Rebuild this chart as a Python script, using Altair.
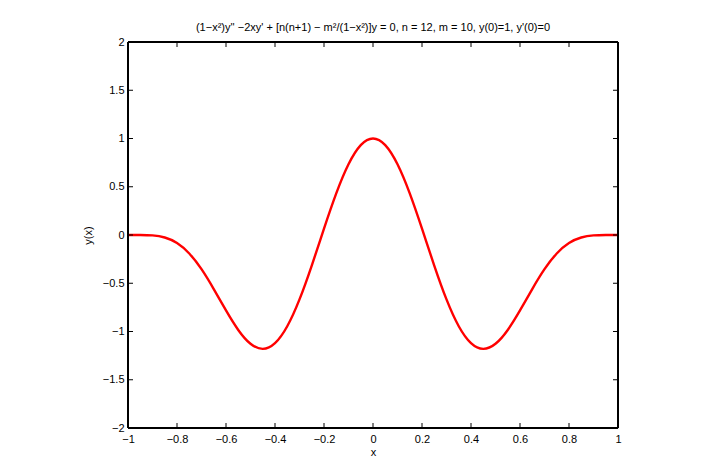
import altair as alt
import pandas as pd

# Curve values (symmetric about x = 0)
x_half = [0.0, 0.05, 0.10, 0.15, 0.20, 0.25, 0.30, 0.35, 0.40, 0.45, 0.50,
          0.55, 0.60, 0.65, 0.70, 0.75, 0.80, 0.85, 0.90, 0.95, 1.0]
y_half = [1.0, 0.9308, 0.7323, 0.4306, 0.0652, -0.3168, -0.6677, -0.9456,
          -1.1208, -1.1800, -1.1272, -0.9838, -0.7817, -0.5600, -0.3543,
          -0.1913, -0.0830, -0.0257, -0.0044, -0.0002, 0.0]

x_ticks = [-1, -0.8, -0.6, -0.4, -0.2, 0, 0.2, 0.4, 0.6, 0.8, 1]
y_ticks = [-2, -1.5, -1, -0.5, 0, 0.5, 1, 1.5, 2]

xs = [-v for v in reversed(x_half[1:])] + x_half
ys = list(reversed(y_half[1:])) + y_half
df = pd.DataFrame({"x": xs, "y": ys})
dfx = pd.DataFrame({"t": x_ticks})
dfy = pd.DataFrame({"t": y_ticks})

W, H = 490, 386
FONT = "Liberation Sans"
xscale = alt.Scale(domain=[-1, 1], nice=False, zero=False)
yscale = alt.Scale(domain=[-2, 2], nice=False, zero=False)

line = alt.Chart(df).mark_line(color="#ff0000", strokeWidth=2.4, interpolate="natural", clip=True).encode(
    x=alt.X("x:Q", scale=xscale,
            axis=alt.Axis(values=x_ticks, format="~g", title="x", ticks=False, domain=False, grid=False,
                          labelFont=FONT, labelFontSize=11, labelColor="black", labelPadding=5,
                          titleFont=FONT, titleFontSize=11, titleFontWeight="normal", titleColor="black",
                          titlePadding=2, labelFlush=False)),
    y=alt.Y("y:Q", scale=yscale,
            axis=alt.Axis(values=y_ticks, format="~g", title="y(x)", ticks=False, domain=False, grid=False,
                          labelFont=FONT, labelFontSize=11, labelColor="black", labelPadding=4,
                          titleFont=FONT, titleFontSize=11, titleFontWeight="normal", titleColor="black",
                          titlePadding=9, labelFlush=False)),
)

tick_len = 5
rule = dict(color="black", strokeWidth=1)
xb = alt.Chart(dfx).mark_rule(**rule).encode(
    x=alt.X("t:Q", scale=xscale), y=alt.value(H), y2=alt.value(H - tick_len))
xt = alt.Chart(dfx).mark_rule(**rule).encode(
    x=alt.X("t:Q", scale=xscale), y=alt.value(0), y2=alt.value(tick_len))
yl = alt.Chart(dfy).mark_rule(**rule).encode(
    y=alt.Y("t:Q", scale=yscale), x=alt.value(0), x2=alt.value(tick_len))
yr = alt.Chart(dfy).mark_rule(**rule).encode(
    y=alt.Y("t:Q", scale=yscale), x=alt.value(W), x2=alt.value(W - tick_len))

frame_style = dict(color="black", strokeWidth=1.6)
f_top = alt.Chart(dfx).mark_rule(**frame_style).encode(x=alt.value(0), x2=alt.value(W), y=alt.value(0))
f_bot = alt.Chart(dfx).mark_rule(**frame_style).encode(x=alt.value(0), x2=alt.value(W), y=alt.value(H))
f_left = alt.Chart(dfx).mark_rule(**frame_style).encode(x=alt.value(0), y=alt.value(0), y2=alt.value(H))
f_right = alt.Chart(dfx).mark_rule(**frame_style).encode(x=alt.value(W), y=alt.value(0), y2=alt.value(H))

chart = alt.layer(line, xb, xt, yl, yr, f_top, f_bot, f_left, f_right).properties(
    width=W, height=H,
    title=alt.TitleParams("(1−x²)y'' −2xy' + [n(n+1) − m²/(1−x²)]y = 0, n = 12, m = 10, y(0)=1, y'(0)=0",
                          font=FONT, fontSize=11, fontWeight="normal", color="black", offset=3, anchor="middle"),
    autosize=alt.AutoSizeParams(type="none"),
    padding={"left": 128, "top": 42, "right": 95, "bottom": 32},
).configure_view(stroke=None).configure(background="white")

chart.save("out.html", embed_options={"renderer": "svg", "actions": False})
